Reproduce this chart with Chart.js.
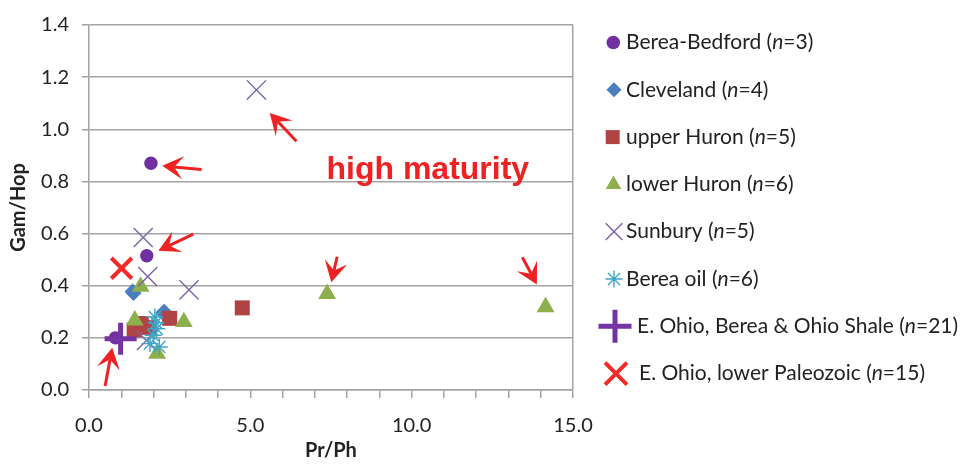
<!DOCTYPE html>
<html>
<head>
<meta charset="utf-8">
<script src="https://cdn.jsdelivr.net/npm/chart.js@4.4.1/dist/chart.umd.min.js"></script>
<style>
html,body{margin:0;padding:0;background:#fff;}
#wrap{width:962px;height:465px;}
</style>
</head>
<body>
<div id="wrap"><canvas id="c" width="962" height="465"></canvas></div>
<script>
// ---- data ----
const seriesNames = ["Berea-Bedford", "Cleveland", "upper Huron", "lower Huron", "Sunbury", "Berea oil", "E. Ohio, Berea & Ohio Shale", "E. Ohio, lower Paleozoic"];
const seriesCounts = [3, 4, 5, 6, 5, 6, 21, 15];

const bereaBedfordX = [1.92, 1.79, 0.82];
const bereaBedfordY = [0.87, 0.515, 0.20];
const clevelandX = [1.35, 2.33, 1.38, 2.30];
const clevelandY = [0.378, 0.300, 0.372, 0.295];
const upperHuronX = [1.40, 1.62, 1.85, 2.50, 4.75];
const upperHuronY = [0.230, 0.255, 0.240, 0.275, 0.315];
const lowerHuronX = [1.60, 1.42, 2.94, 2.11, 7.38, 14.15];
const lowerHuronY = [0.397, 0.267, 0.261, 0.140, 0.369, 0.318];
const sunburyX = [5.19, 1.68, 1.82, 3.10, 1.78];
const sunburyY = [1.151, 0.585, 0.435, 0.384, 0.190];
const bereaOilX = [2.04, 2.10, 1.89, 2.18, 1.99, 2.08];
const bereaOilY = [0.280, 0.235, 0.178, 0.165, 0.210, 0.258];
const eOhioShaleX = [0.98];
const eOhioShaleY = [0.197];
const eOhioPaleoX = [1.01];
const eOhioPaleoY = [0.467];

const xTicksMajor = [0, 5, 10, 15];
const yTickStep = 0.2;

// arrows: tail and head positions in data units
const arrowTailX = [3.49, 3.23, 6.43, 0.50, 7.69, 13.43];
const arrowTailY = [0.846, 0.598, 0.954, 0.015, 0.511, 0.509];
const arrowHeadX = [2.27, 2.15, 5.60, 0.72, 7.51, 13.88];
const arrowHeadY = [0.860, 0.534, 1.062, 0.162, 0.413, 0.405];

const noteText = "high maturity";
const noteX = 10.5, noteY = 0.808;

// ---- styles ----
const colors = ["#7030a0", "#4a7ebf", "#b04444", "#8daf4c", "#7b63a8", "#3ea6c8", "#7434a4", "#f42a2a"];
const styles = [
  {pointStyle:'circle', radius:6.7, borderWidth:0, fill:true},
  {pointStyle:'rectRot', radius:8, borderWidth:0, fill:true},
  {pointStyle:'rect', radius:10.6, borderWidth:0, fill:true},
  {pointStyle:'triangle', radius:10.3, borderWidth:0, fill:true},
  {pointStyle:'crossRot', radius:13.5, borderWidth:1.4, fill:false},
  {pointStyle:'star', radius:8.5, borderWidth:1.4, fill:false},
  {pointStyle:'cross', radius:16, borderWidth:5, fill:false},
  {pointStyle:'crossRot', radius:14.5, borderWidth:4, fill:false}
];
const legendStyles = [
  {radius:6.8}, {radius:7.5}, {radius:9.9}, {radius:9}, {radius:11.8}, {radius:8.5}, {radius:16.5}, {radius:15.5}
];

const xs = [bereaBedfordX, clevelandX, upperHuronX, lowerHuronX, sunburyX, bereaOilX, eOhioShaleX, eOhioPaleoX];
const ys = [bereaBedfordY, clevelandY, upperHuronY, lowerHuronY, sunburyY, bereaOilY, eOhioShaleY, eOhioPaleoY];

const datasets = seriesNames.map((name, i) => ({
  label: name + " (n=" + seriesCounts[i] + ")",
  data: xs[i].map((x, j) => ({x: x, y: ys[i][j]})),
  pointStyle: styles[i].pointStyle,
  pointRadius: styles[i].radius,
  pointHoverRadius: styles[i].radius,
  pointBorderWidth: styles[i].borderWidth,
  pointBackgroundColor: styles[i].fill ? colors[i] : 'transparent',
  pointBorderColor: colors[i],
  showLine: false,
  order: seriesNames.length - i
}));

const GRID = "#a3a3a3";
const TEXT = "#222222";
const FONT = "Lato, 'Open Sans', sans-serif";

const extrasPlugin = {
  id: 'extras',
  afterDatasetsDraw(chart) {
    const ctx = chart.ctx;
    const sx = chart.scales.x, sy = chart.scales.y;
    ctx.save();
    // arrows
    ctx.strokeStyle = "#ee2222";
    ctx.fillStyle = "#ee2222";
    ctx.lineWidth = 3;
    ctx.lineCap = 'butt';
    for (let i = 0; i < arrowTailX.length; i++) {
      const x0 = sx.getPixelForValue(arrowTailX[i]), y0 = sy.getPixelForValue(arrowTailY[i]);
      const x1 = sx.getPixelForValue(arrowHeadX[i]), y1 = sy.getPixelForValue(arrowHeadY[i]);
      const a = Math.atan2(y1 - y0, x1 - x0);
      const L = 21, W = 11.5, notch = 12;
      const bx = x1 - Math.cos(a) * notch, by = y1 - Math.sin(a) * notch;
      ctx.beginPath();
      ctx.moveTo(x0, y0);
      ctx.lineTo(bx, by);
      ctx.stroke();
      const px = -Math.sin(a), py = Math.cos(a);
      const hx = x1 - Math.cos(a) * L, hy = y1 - Math.sin(a) * L;
      ctx.beginPath();
      ctx.moveTo(x1, y1);
      ctx.lineTo(hx + px * W, hy + py * W);
      ctx.lineTo(bx, by);
      ctx.lineTo(hx - px * W, hy - py * W);
      ctx.closePath();
      ctx.fill();
    }
    // note text
    ctx.font = "bold 32px 'Liberation Sans', Arial, sans-serif";
    ctx.textAlign = 'center';
    ctx.textBaseline = 'alphabetic';
    ctx.fillStyle = "#ee2222";
    ctx.fillText(noteText, sx.getPixelForValue(noteX), sy.getPixelForValue(noteY));
    ctx.restore();
  },
  afterDraw(chart) {
    const ctx = chart.ctx;
    ctx.save();
    const startY = 42.5, step = 47.3;
    const markerX = [613.3, 614, 612.7, 613.5, 614, 614, 615, 616];
    const textX = [626, 626, 626, 626, 626, 626, 637, 639];
    for (let i = 0; i < seriesNames.length; i++) {
      const y = startY + step * i;
      const st = styles[i];
      ctx.fillStyle = st.fill ? colors[i] : 'transparent';
      ctx.strokeStyle = colors[i];
      ctx.lineWidth = st.borderWidth;
      Chart.helpers.drawPoint(ctx, {pointStyle: st.pointStyle, radius: legendStyles[i].radius, rotation: 0, borderWidth: st.borderWidth}, markerX[i], y);
      // text with italic n
      ctx.fillStyle = TEXT;
      ctx.textBaseline = 'middle';
      ctx.textAlign = 'left';
      let x = textX[i];
      const parts = [[seriesNames[i] + " (", "normal"], ["n", "italic"], ["=" + seriesCounts[i] + ")", "normal"]];
      for (const [t, s] of parts) {
        ctx.font = s + " 21px " + FONT;
        ctx.fillText(t, x, y);
        x += ctx.measureText(t).width;
      }
    }
    ctx.restore();
  }
};

new Chart(document.getElementById('c'), {
  type: 'scatter',
  data: {datasets: datasets},
  options: {
    responsive: false,
    animation: false,
    events: [],
    layout: {padding: {top: 23, right: 389, bottom: 0, left: 0}},
    plugins: {legend: {display: false}, tooltip: {enabled: false}},
    scales: {
      x: {
        type: 'linear', min: 0, max: 15,
        afterBuildTicks: (s) => { s.ticks = Array.from({length: 16}, (_, k) => ({value: k})); },
        ticks: {
          autoSkip: false, maxRotation: 0, padding: 16, color: TEXT,
          font: {family: FONT, size: 20},
          callback: (v) => xTicksMajor.includes(v) ? v.toFixed(1) : ''
        },
        grid: {
          color: (c) => (c.tick && c.tick.value === 15) ? GRID : 'transparent',
          tickColor: GRID, tickLength: 8, lineWidth: 1.5
        },
        border: {color: GRID, width: 1.5},
        title: {display: true, text: 'Pr/Ph', color: TEXT, font: {family: FONT, size: 20, weight: 'bold'}, padding: {top: 2, bottom: 2}},
        afterFit: (s) => { s.height = 75; }
      },
      y: {
        min: 0, max: 1.4,
        ticks: {stepSize: yTickStep, padding: 13, color: TEXT, font: {family: FONT, size: 20}, callback: (v) => Number(v).toFixed(1)},
        grid: {color: GRID, tickColor: GRID, tickLength: 7, lineWidth: 1.5},
        border: {color: GRID, width: 1.5},
        title: {display: true, text: 'Gam/Hop', color: TEXT, font: {family: FONT, size: 20, weight: 'bold'}, padding: {top: 7, bottom: 2}},
        afterFit: (s) => { s.width = 89; }
      }
    }
  },
  plugins: [extrasPlugin]
});
</script>
</body>
</html>
